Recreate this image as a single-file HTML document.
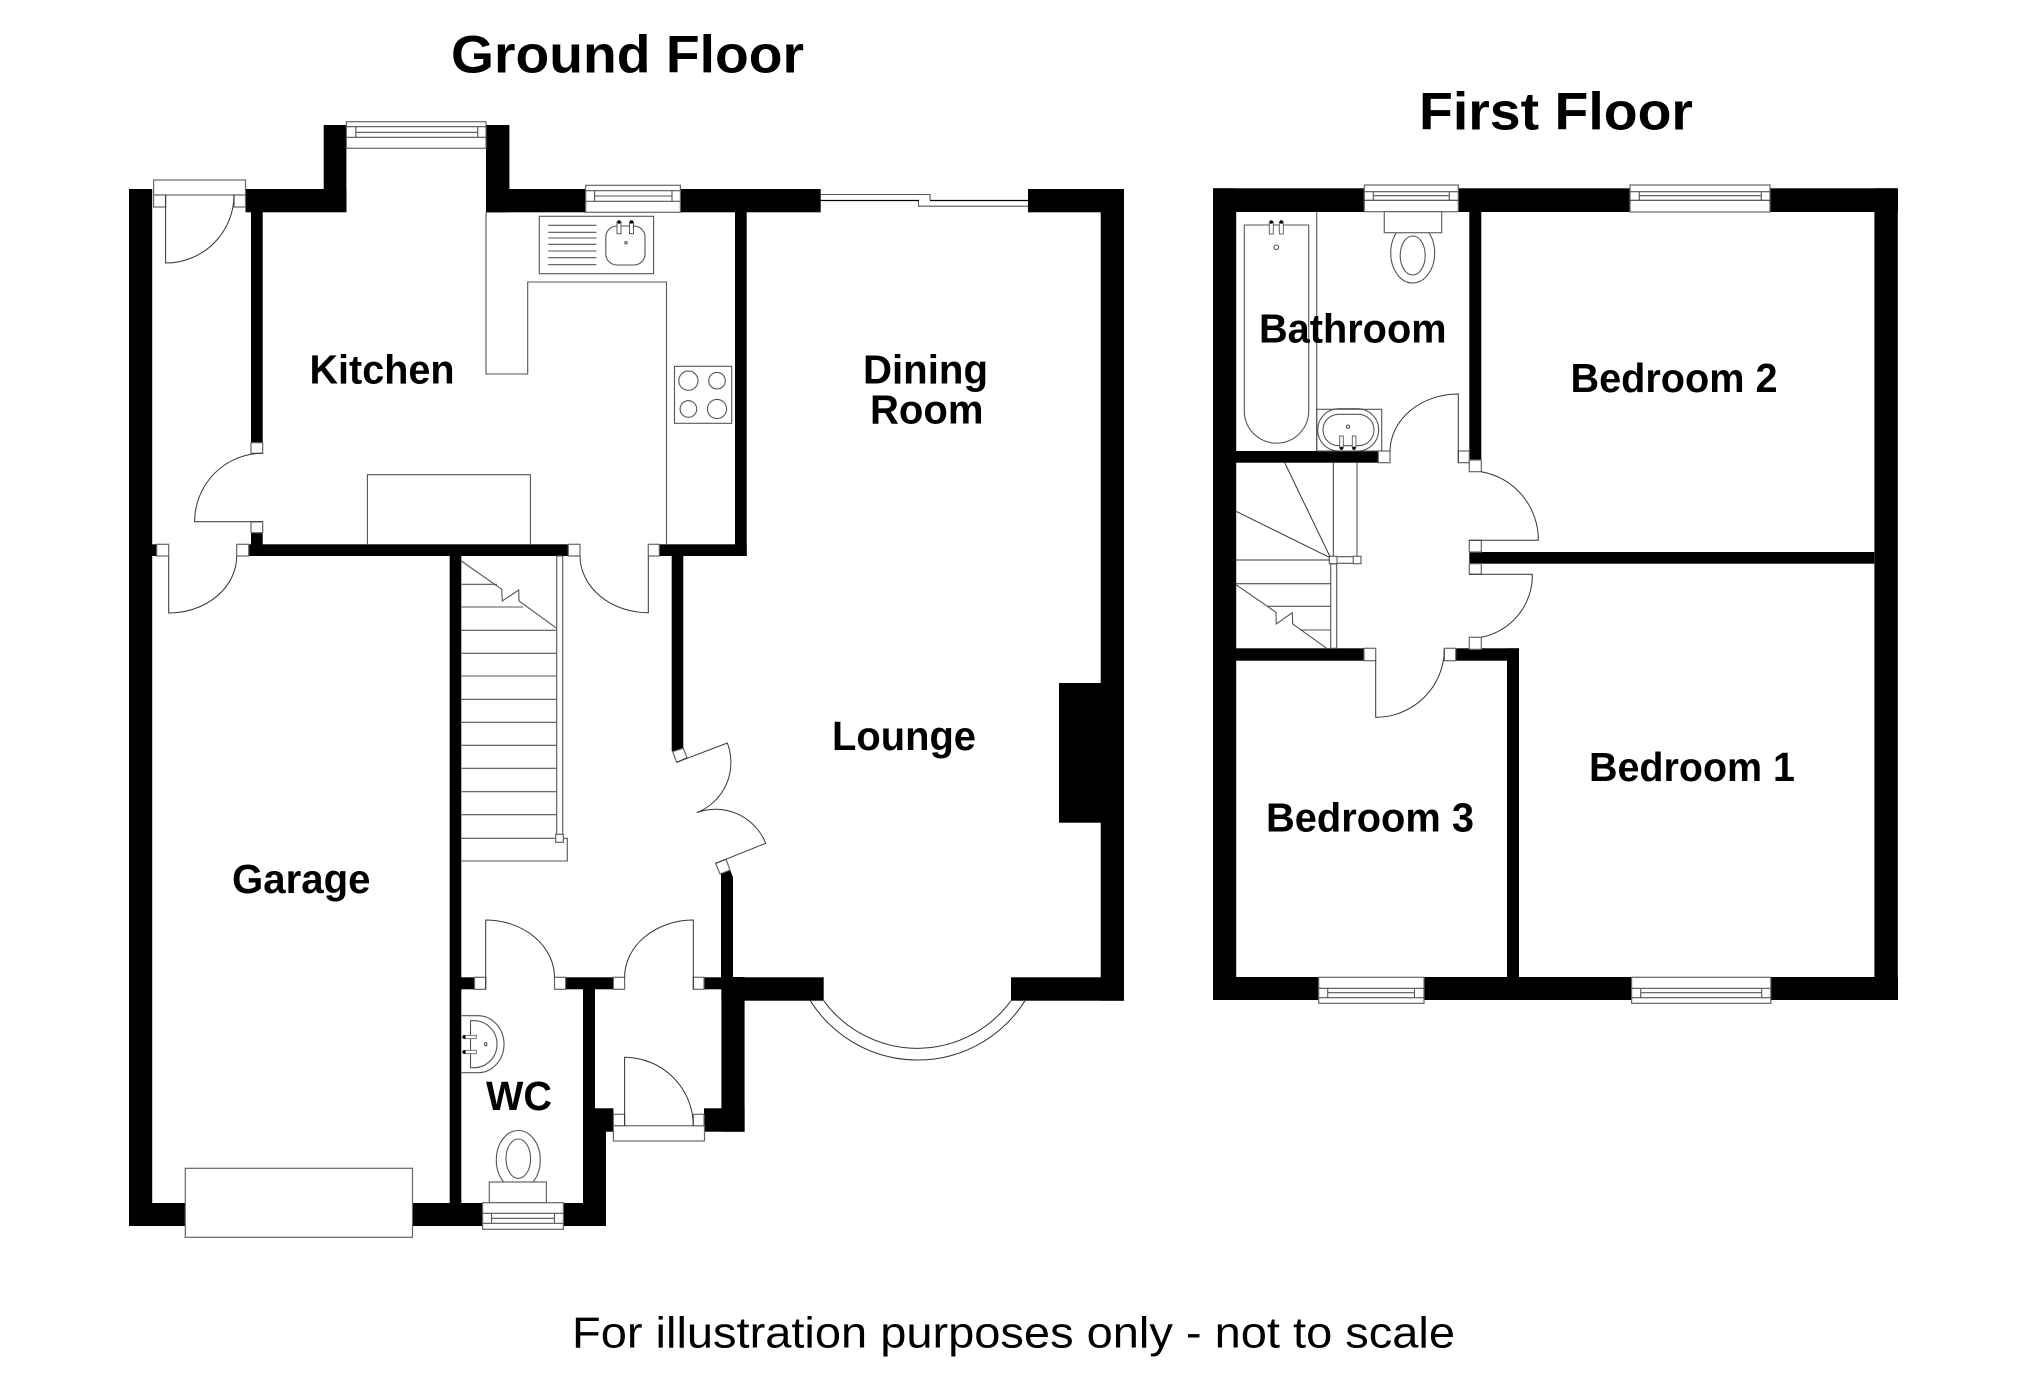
<!DOCTYPE html>
<html><head><meta charset="utf-8"><title>Floor plan</title>
<style>
html,body{margin:0;padding:0;background:#fff}
svg{display:block}
text{font-family:"Liberation Sans",sans-serif;font-weight:bold;fill:#000}
.l{fill:none;stroke:#555;stroke-width:1.1}
.d{fill:none;stroke:#333;stroke-width:1}
.w{fill:#fff;stroke:#666;stroke-width:1.2}
</style></head><body>
<svg xmlns="http://www.w3.org/2000/svg" width="2025" height="1388" viewBox="0 0 2025 1388">
<rect width="2025" height="1388" fill="#fff"/>
<!-- GROUND FLOOR WALLS -->
<g fill="#000">
<rect x="129" y="189" width="23.2" height="1037"/>
<rect x="129" y="1203" width="477" height="23"/>
<rect x="152" y="544.3" width="5" height="11.7"/>
<rect x="245.5" y="189" width="101" height="23.3"/>
<rect x="323.7" y="125" width="22.7" height="70"/>
<rect x="486" y="125" width="23.4" height="87.3"/>
<rect x="486" y="189" width="100" height="23.3"/>
<rect x="680" y="189" width="141" height="23.3"/>
<rect x="1028" y="189" width="96" height="23.3"/>
<rect x="1100.7" y="189" width="23.3" height="811.7"/>
<rect x="1059" y="683" width="45" height="139.7"/>
<rect x="1011" y="977.3" width="113" height="23.4"/>
<rect x="735" y="212" width="11.7" height="344"/>
<rect x="659.3" y="544.3" width="87.4" height="11.7"/>
<rect x="248" y="544.3" width="320.3" height="11.7"/>
<rect x="251" y="212" width="11.7" height="230.7"/>
<rect x="251" y="532.7" width="11.7" height="12"/>
<rect x="449.7" y="556" width="11.6" height="647"/>
<polygon points="671.7,556 683.3,556 683.3,748.5 672.5,751.5 671.7,751"/>
<polygon points="721,874 730,870 733,877 733,977 721,977"/>
<rect x="721.4" y="977" width="23.2" height="154.7"/>
<rect x="704" y="1108.3" width="40.6" height="23.4"/>
<rect x="721.4" y="977.3" width="102.3" height="23.4"/>
<rect x="704" y="977.3" width="18" height="12"/>
<rect x="461" y="977.3" width="13.5" height="12"/>
<rect x="565.6" y="977.3" width="47.8" height="12"/>
<rect x="583" y="989" width="12" height="237"/>
<rect x="583" y="1131" width="23" height="95"/>
<rect x="595" y="1108.3" width="18.4" height="23.4"/>
</g>
<!-- KITCHEN WINDOWS & BACK DOOR -->
<rect class="w" x="153.6" y="180" width="91.9" height="15"/>
<rect class="w" x="153.6" y="195" width="12" height="12"/>
<rect class="w" x="234" y="195" width="11.5" height="12"/>
<path class="d" d="M165.6 195V263A68.4 68 0 0 0 234 195"/>
<rect class="w" x="346.4" y="121.7" width="139.6" height="26.6"/>
<path class="l" d="M346.4 126.7H486M346.4 137.3H486M355.8 127V137M477.7 127V137M355.8 132.3H477.7"/>
<rect class="w" x="585.7" y="185.3" width="94.7" height="27"/>
<path class="l" d="M585.7 190.7H680.4M585.7 201.3H680.4M594.6 191V201M672 191V201M594.6 196H672"/>
<!-- Sliding door -->
<rect x="820.7" y="189" width="207.3" height="23.3" fill="#fff"/>
<path class="l" fill="none" d="M820.7 194.5H930V200M918.5 201V206.2H1028"/>
<path d="M820.7 200.5H919M930 200.5H1028" stroke="#000" stroke-width="1.2" fill="none"/>
<!-- KITCHEN UNITS -->
<path class="l" d="M486 212V374H527.7V282H666.5V544"/>
<rect class="l" x="539.3" y="216.3" width="114.3" height="57.4"/>
<path class="l" d="M548.2 225.3H596.4M548.2 232.3H596.4M548.2 238H596.4M548.2 244.3H596.4M548.2 251H596.4M548.2 257.7H596.4M548.2 264.7H596.4"/>
<rect class="l" x="605.8" y="226" width="39.2" height="39" rx="11" ry="11"/>
<rect x="617" y="222" width="4" height="11.7" fill="#fff" stroke="#555" stroke-width="1"/>
<rect x="629.5" y="222" width="4" height="11.7" fill="#fff" stroke="#555" stroke-width="1"/>
<circle cx="619" cy="222" r="1.7"/><circle cx="631.5" cy="222" r="1.7"/>
<circle class="l" cx="626" cy="242.7" r="1.2"/>
<rect class="l" x="674.5" y="366.3" width="57.2" height="57"/>
<circle class="l" cx="688.4" cy="380.7" r="9.6"/><circle class="l" cx="717" cy="380.7" r="8.3"/>
<circle class="l" cx="688.4" cy="409" r="8.3"/><circle class="l" cx="717" cy="409" r="9.6"/>
<path class="l" d="M367.4 544V474.7H530.4V544"/>
<!-- INTERNAL DOORS GROUND -->
<rect class="w" x="251" y="442.7" width="11.7" height="10.6"/>
<rect class="w" x="251" y="521.7" width="11.7" height="11"/>
<path class="d" d="M262.7 453.3A68 68.4 0 0 0 194.6 521.7H262.7"/>
<rect class="w" x="156.7" y="544.3" width="12" height="11.7"/>
<rect class="w" x="236.7" y="544.3" width="12" height="11.7"/>
<path class="d" d="M236.7 556A68 57 0 0 1 168.7 613V556"/>
<rect class="w" x="568.3" y="544.3" width="11.7" height="11.7"/>
<rect class="w" x="648.3" y="544.3" width="11" height="11.7"/>
<path class="d" d="M580 556A68.3 57 0 0 0 648.3 612.7V556"/>
<!-- Angled doors -->
<polygon class="w" points="672.7,751.7 683.3,748.3 687,757.7 676.7,762.3"/>
<polygon class="w" points="715.7,863.3 726,859.3 730,870 720,874"/>
<path class="d" d="M676.7 762.3L727.3 743A54 54 0 0 1 696.7 812.7A54 54 0 0 1 765.7 843.3L715.7 863.3"/>
<!-- STAIRS -->
<path class="l" d="M461.3 561L501.7 589.3L502.3 601L518.7 590L519 601L556.7 628.3"/>
<path class="l" d="M461.3 584.3H497M461.3 607H523M461.3 630.3H556.7M461.3 653.3H556.7M461.3 676H556.7M461.3 699.3H556.7M461.3 722.3H556.7M461.3 745.3H556.7M461.3 768.3H556.7M461.3 791.7H556.7M461.3 814.7H556.7M461.3 838.3H567.3V861H461.3"/>
<rect class="l" x="556.7" y="556" width="6" height="279"/>
<rect class="w" x="555.7" y="834.3" width="7.6" height="8"/>
<!-- BAY -->
<path class="d" d="M823.7 1000.7A115.9 115.9 0 0 0 1011 1000.7M810.3 1000.7A126.8 126.8 0 0 0 1025 1000.7"/>
<!-- WC/HALL DOORS -->
<rect class="w" x="474.5" y="977.3" width="11.2" height="12"/>
<rect class="w" x="554.5" y="977.3" width="11.1" height="12"/>
<path class="d" d="M485.7 989V920A69 57.3 0 0 1 554.5 977.3"/>
<rect class="w" x="613.4" y="977.3" width="11.2" height="12"/>
<rect class="w" x="693.3" y="977.3" width="10.7" height="12"/>
<path class="d" d="M624.6 977.3A69 57.3 0 0 1 693.3 920V989"/>
<!-- Front door -->
<rect class="w" x="613.4" y="1125.7" width="91.1" height="15.3"/>
<rect class="w" x="613.4" y="1114.3" width="11.2" height="11.4"/>
<rect class="w" x="693.3" y="1114.3" width="10.7" height="11.4"/>
<path class="d" d="M624.6 1125.7V1057.3A68.7 68.4 0 0 1 693.3 1125.7"/>
<!-- WC fittings -->
<path class="l" d="M461.3 1015.7H478A26 28.5 0 0 1 478 1072.7H461.3"/>
<path class="l" d="M470.5 1020.7H474A23 23.5 0 0 1 474 1067.7H470.5Z"/>
<rect x="464" y="1035.3" width="12.3" height="3.4" fill="#fff" stroke="#555" stroke-width=".8"/>
<rect x="464" y="1050.3" width="12.3" height="3.4" fill="#fff" stroke="#555" stroke-width=".8"/>
<circle cx="464" cy="1037" r="1.7"/><circle cx="464" cy="1052" r="1.7"/>
<ellipse class="l" cx="485.7" cy="1044.3" rx="1.2" ry="1.7"/>
<ellipse class="l" cx="518.3" cy="1160" rx="22" ry="29.5"/>
<ellipse class="l" cx="518.3" cy="1158.7" rx="12.3" ry="19.7"/>
<rect class="w" x="489.3" y="1182" width="57.1" height="20.7"/>
<rect class="w" x="482.6" y="1202.7" width="80.8" height="26.6"/>
<path class="l" d="M482.6 1213.3H563.4M482.6 1223.3H563.4M491.5 1213.5V1223M554.5 1213.5V1223M491.5 1218.3H554.5"/>
<rect class="w" x="185.3" y="1168.3" width="227.2" height="69"/>
<!-- FIRST FLOOR WALLS -->
<g fill="#000">
<rect x="1213" y="188.3" width="23.2" height="811.7"/>
<rect x="1213" y="977" width="685" height="23"/>
<rect x="1213" y="188.3" width="685" height="23.7"/>
<rect x="1874.4" y="188.3" width="23.4" height="811.7"/>
<rect x="1469.3" y="212" width="12" height="248"/>
<rect x="1236" y="451" width="142.3" height="11.7"/>
<rect x="1236" y="648.3" width="128" height="12.4"/>
<rect x="1455.7" y="648.3" width="63.3" height="12.4"/>
<rect x="1507" y="648.3" width="12" height="330"/>
<rect x="1469.3" y="552" width="405" height="11.7"/>
</g>
<!-- First floor windows -->
<rect class="w" x="1364.3" y="185" width="94" height="26.7"/>
<path class="l" d="M1364.3 191.7H1458.3M1373.3 192V200M1449.3 192V200M1373.3 195.7H1449.3"/>
<path d="M1364.3 200.3H1458.3" stroke="#222" stroke-width="1" fill="none"/>
<rect class="w" x="1630" y="185" width="140" height="27"/>
<path class="l" d="M1630 191.7H1770M1639.3 192V200M1761.3 192V200M1639.3 195.7H1761.3"/>
<path d="M1630 200.3H1770" stroke="#222" stroke-width="1" fill="none"/>
<rect class="w" x="1318.7" y="977.3" width="105.3" height="26"/>
<path class="l" d="M1318.7 988.3H1424M1318.7 997.7H1424M1327.7 988.5V997.5M1414.4 988.5V997.5M1327.7 992.7H1414.4"/>
<rect class="w" x="1631.6" y="977.3" width="139.2" height="26"/>
<path class="l" d="M1631.6 988.3H1770.8M1631.6 997.7H1770.8M1640.7 988.5V997.5M1761.7 988.5V997.5M1640.7 992.7H1761.7"/>
<!-- Bathroom -->
<path class="l" d="M1316.7 212V451"/>
<path class="l" d="M1244.3 225H1308.7V411A32.2 32.2 0 0 1 1244.3 411Z"/>
<rect x="1269.3" y="222" width="4" height="12" fill="#fff" stroke="#555" stroke-width=".9"/>
<rect x="1279.3" y="222" width="4" height="12" fill="#fff" stroke="#555" stroke-width=".9"/>
<circle cx="1271.3" cy="222" r="1.7"/><circle cx="1281.3" cy="222" r="1.7"/>
<circle class="l" cx="1276.3" cy="247.3" r="2.3"/>
<ellipse class="l" cx="1412.7" cy="253" rx="22" ry="30"/>
<ellipse class="l" cx="1412.7" cy="255.5" rx="12.5" ry="19.5"/>
<rect class="w" x="1384.3" y="211.7" width="57.4" height="21"/>
<rect class="l" x="1316.7" y="409.3" width="65" height="41.7"/>
<rect class="l" x="1317.7" y="408.7" width="61" height="42.3" rx="21" ry="21"/>
<rect class="l" x="1323" y="414.3" width="51" height="31.4" rx="15.7" ry="15.7"/>
<circle class="l" cx="1348" cy="426.7" r="1.6"/>
<rect x="1339.7" y="436" width="3.6" height="12" fill="#fff" stroke="#555" stroke-width=".9"/>
<rect x="1352.3" y="436" width="3.6" height="12" fill="#fff" stroke="#555" stroke-width=".9"/>
<circle cx="1341.5" cy="448.3" r="1.7"/><circle cx="1354" cy="448.3" r="1.7"/>
<!-- First floor doors -->
<rect class="w" x="1378.3" y="451" width="11.7" height="11.7"/>
<rect class="w" x="1458.3" y="451" width="11" height="11.7"/>
<path class="d" d="M1390 451.7A68.3 57.7 0 0 1 1458.3 394V462.7"/>
<rect class="w" x="1469.3" y="460" width="12" height="11.7"/>
<rect class="w" x="1469.3" y="540.3" width="12" height="11.7"/>
<path class="d" d="M1481.3 471.7A69 69 0 0 1 1538.3 540.3H1469.3"/>
<rect class="w" x="1469.3" y="563.7" width="12" height="10.6"/>
<rect class="w" x="1469.3" y="637.3" width="12" height="12"/>
<path class="d" d="M1469.3 574.3H1532.3A63 63 0 0 1 1481.3 637.3"/>
<rect class="w" x="1364" y="648.3" width="11.7" height="12.4"/>
<rect class="w" x="1444.3" y="648.3" width="11.4" height="12.4"/>
<path class="d" d="M1375.7 660V717.3A68.6 68 0 0 0 1444.3 649.3"/>
<!-- First floor stairs -->
<path class="d" d="M1333.3 462.7V556.7"/>
<path class="l" d="M1357 462.7V556.7M1337 556.7H1353.3M1337 563.3H1353.3"/>
<rect class="w" x="1353.3" y="556.3" width="7.7" height="7.4"/>
<rect class="w" x="1329.3" y="556.3" width="7.7" height="7.4"/>
<rect class="l" x="1330.7" y="563.7" width="6" height="84.6"/>
<path class="d" d="M1284.7 462.7L1330 556.7M1236 511.3L1329.3 557.3M1236 560H1330M1236 583.7H1331"/>
<path class="l" d="M1236 584.7L1276 612.3L1276.3 624L1292.3 612.7L1292.7 624L1326.7 648.3M1268 606.3H1330.7M1300 630H1330.7"/>
<!-- LABELS -->
<text x="451" y="72.3" font-size="53" textLength="353" lengthAdjust="spacingAndGlyphs">Ground Floor</text>
<text x="1419" y="129.3" font-size="53" textLength="274" lengthAdjust="spacingAndGlyphs">First Floor</text>
<text x="309.5" y="383.3" font-size="41" textLength="145" lengthAdjust="spacingAndGlyphs">Kitchen</text>
<text x="863" y="383.3" font-size="41" textLength="125" lengthAdjust="spacingAndGlyphs">Dining</text>
<text x="870" y="423.3" font-size="41" textLength="113.5" lengthAdjust="spacingAndGlyphs">Room</text>
<text x="832" y="750" font-size="41" textLength="144" lengthAdjust="spacingAndGlyphs">Lounge</text>
<text x="232" y="893" font-size="41" textLength="138.5" lengthAdjust="spacingAndGlyphs">Garage</text>
<text x="486" y="1110" font-size="41" textLength="66" lengthAdjust="spacingAndGlyphs">WC</text>
<text x="1259" y="342.3" font-size="41" textLength="187.5" lengthAdjust="spacingAndGlyphs">Bathroom</text>
<text x="1570.5" y="392" font-size="41" textLength="207" lengthAdjust="spacingAndGlyphs">Bedroom 2</text>
<text x="1589" y="781" font-size="41" textLength="206" lengthAdjust="spacingAndGlyphs">Bedroom 1</text>
<text x="1266" y="831.5" font-size="41" textLength="208" lengthAdjust="spacingAndGlyphs">Bedroom 3</text>
<text x="572" y="1347.5" font-size="44" style="font-weight:normal" textLength="883" lengthAdjust="spacingAndGlyphs">For illustration purposes only - not to scale</text>
</svg>
</body></html>
